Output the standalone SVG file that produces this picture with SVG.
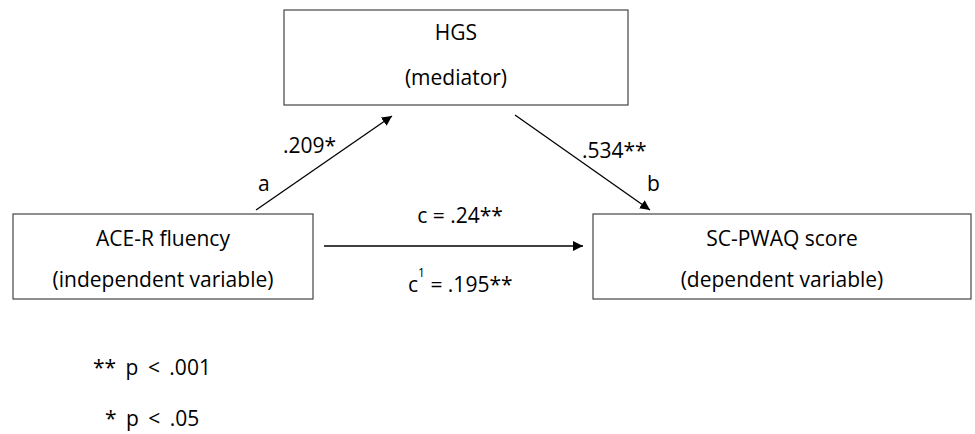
<svg xmlns="http://www.w3.org/2000/svg" width="975" height="434" viewBox="0 0 975 434">
<style>
text{font-family:"Open Sans","Liberation Sans",sans-serif;font-size:21px;fill:#000}
.box{fill:#fff;stroke:#444;stroke-width:1.2}
.line{stroke:#000;stroke-width:1.3;fill:none}
.m{text-anchor:middle}
.leg{word-spacing:4px}
</style>
<defs>
<marker id="arr" viewBox="0 0 10 10" refX="10" refY="5" markerWidth="10" markerHeight="10" markerUnits="userSpaceOnUse" orient="auto">
<path d="M0,0 L10,5 L0,10 Z" fill="#000"/>
</marker>
</defs>
<rect width="975" height="434" fill="#fff"/>
<g id="hgs">
<rect class="box" x="284" y="10" width="344" height="95"/>
<text class="m" x="456" y="40">HGS</text>
<text class="m" x="456" y="85">(mediator)</text>
</g>
<g id="ace">
<rect class="box" x="13" y="214" width="300" height="85"/>
<text class="m" x="163" y="246">ACE-R fluency</text>
<text class="m" x="163" y="287">(independent variable)</text>
</g>
<g id="scpwaq">
<rect class="box" x="593" y="214" width="378" height="85"/>
<text class="m" x="782" y="246">SC-PWAQ score</text>
<text class="m" x="782" y="287">(dependent variable)</text>
</g>
<g id="connectors">
<line class="line" x1="256" y1="210" x2="392" y2="116" marker-end="url(#arr)"/>
<line class="line" x1="515" y1="115" x2="650" y2="210" marker-end="url(#arr)"/>
<line class="line" x1="324" y1="246" x2="583" y2="246" marker-end="url(#arr)"/>
<text x="283" y="153">.209*</text>
<text x="258" y="191">a</text>
<text x="582" y="158">.534**</text>
<text x="647" y="191">b</text>
<text class="m" x="460" y="223">c = .24**</text>
<text x="408" y="292">c<tspan font-size="12" dy="-15">1</tspan><tspan dy="15"> = .195**</tspan></text>
</g>
<g id="legend">
<text class="leg" x="93" y="375">** p &lt; .001</text>
<text class="leg" x="105" y="426">* p &lt; .05</text>
</g>
</svg>
